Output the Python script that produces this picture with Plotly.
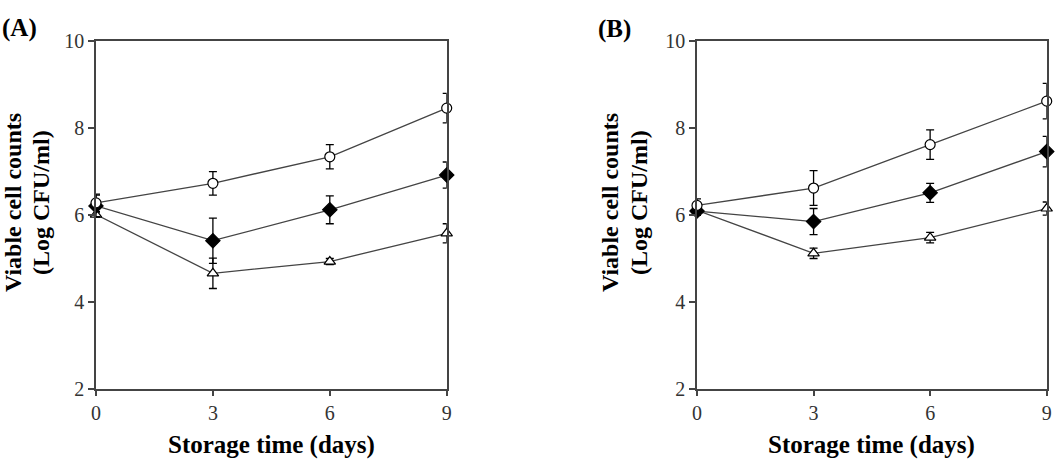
import plotly.graph_objects as go

days = [0, 3, 6, 9]

# Panel A
a_circle = [6.27, 6.72, 7.33, 8.45]
a_circle_err = [0.2, 0.27, 0.28, 0.34]
a_diamond = [6.2, 5.40, 6.11, 6.91]
a_diamond_err = [0.25, 0.52, 0.32, 0.3]
a_triangle = [6.0, 4.65, 4.92, 5.57]
a_triangle_err = [0.06, 0.35, 0.07, 0.22]

# Panel B
b_circle = [6.21, 6.61, 7.61, 8.61]
b_circle_err = [0.15, 0.4, 0.34, 0.41]
b_diamond = [6.08, 5.84, 6.50, 7.45]
b_diamond_err = [0.1, 0.3, 0.22, 0.35]
b_triangle = [6.1, 5.11, 5.47, 6.14]
b_triangle_err = [0.06, 0.12, 0.12, 0.15]

y_ticks = [2, 4, 6, 8, 10]
x_ticks = [0, 3, 6, 9]

FONT = "Liberation Serif"
LINE_C = "#444444"

fig = go.Figure()


def add_series(xref, yref, y, err, symbol, fill, size):
    fig.add_trace(go.Scatter(
        x=days, y=y, xaxis=xref, yaxis=yref, mode="lines+markers",
        line=dict(color=LINE_C, width=1.3),
        marker=dict(symbol=symbol, size=size, color=fill,
                    line=dict(color="black", width=1.2)),
        error_y=dict(type="data", array=err, visible=True, color="black",
                     thickness=1.3, width=4),
        cliponaxis=False, showlegend=False,
    ))


for xr, yr, c, ce, d, de, t, te in [
    ("x", "y", a_circle, a_circle_err, a_diamond, a_diamond_err, a_triangle, a_triangle_err),
    ("x2", "y2", b_circle, b_circle_err, b_diamond, b_diamond_err, b_triangle, b_triangle_err),
]:
    add_series(xr, yr, t, te, "triangle-up", "white", 10)
    add_series(xr, yr, d, de, "diamond", "black", 11)
    add_series(xr, yr, c, ce, "circle", "white", 10)

H = 460.0
W = 1062.0
ydom = [1 - 388.5 / H, 1 - 40.7 / H]

axis_common = dict(
    showline=True, linecolor=LINE_C, linewidth=1.5, mirror=True,
    showgrid=False, zeroline=False, ticks="outside", ticklen=6,
    tickcolor=LINE_C, tickwidth=1.5, automargin=False,
    tickfont=dict(family=FONT, size=20, color="#333333"),
)

fig.update_layout(
    width=1062, height=460,
    margin=dict(l=0, r=0, t=0, b=0),
    paper_bgcolor="white", plot_bgcolor="white",
    xaxis=dict(domain=[96 / W, 446.7 / W], range=[0, 9], tickvals=x_ticks,
               anchor="y", **axis_common),
    yaxis=dict(domain=ydom, range=[2, 10], tickvals=y_ticks, anchor="x",
               **axis_common),
    xaxis2=dict(domain=[697 / W, 1046.7 / W], range=[0, 9], tickvals=x_ticks,
                anchor="y2", **axis_common),
    yaxis2=dict(domain=ydom, range=[2, 10], tickvals=y_ticks, anchor="x2",
                **axis_common),
)


def ann(text, xpx, ypx, angle=0, size=24):
    fig.add_annotation(
        text=text, x=xpx / W, y=1 - ypx / H, xref="paper", yref="paper",
        showarrow=False, textangle=angle, xanchor="center", yanchor="middle",
        font=dict(family=FONT, size=size, color="black"),
    )


ann("<b>Storage time (days)</b>", 271, 445, 0, 25)
ann("<b>Storage time (days)</b>", 871, 445, 0, 25)
ann("<b>Viable cell counts</b>", 13, 203, -90)
ann("<b>(Log CFU/ml)</b>", 41, 203, -90)
ann("<b>Viable cell counts</b>", 610, 203, -90)
ann("<b>(Log CFU/ml)</b>", 639, 203, -90)
ann("<b>(A)</b>", 19, 28, 0, 25)
ann("<b>(B)</b>", 614.7, 29, 0, 25)

fig.write_html("out.html")
